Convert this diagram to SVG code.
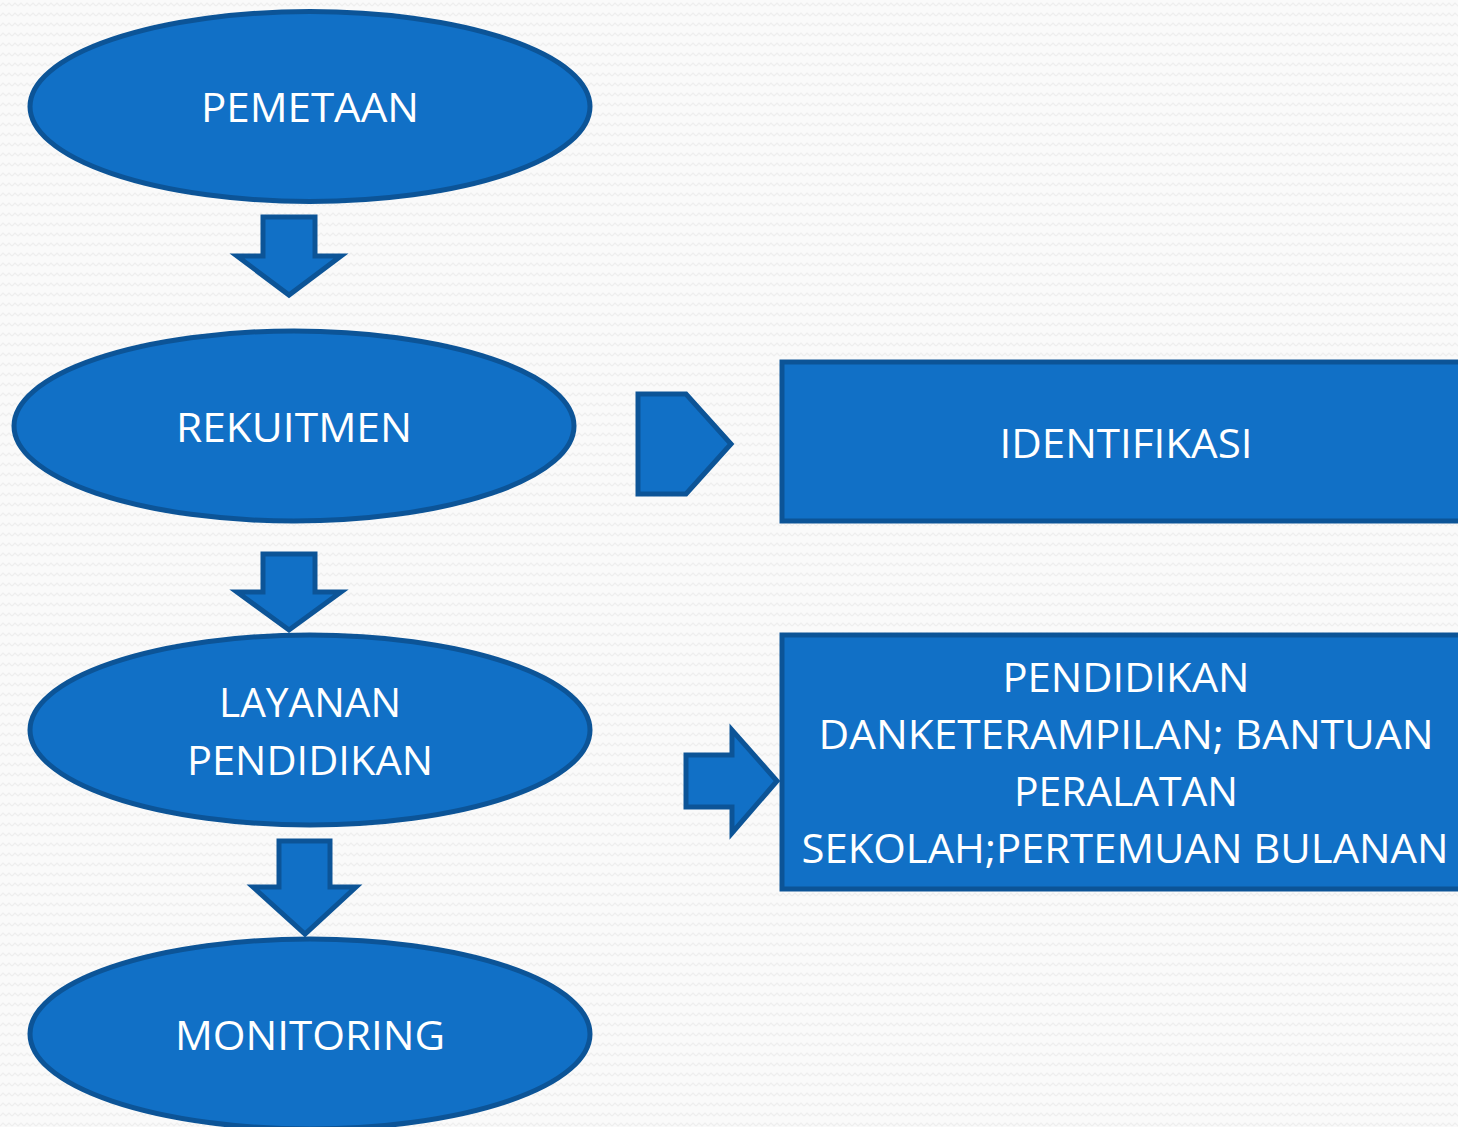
<svg xmlns="http://www.w3.org/2000/svg" width="1458" height="1127" viewBox="0 0 1458 1127">
  <defs>
    <pattern id="zig" width="12" height="10" patternUnits="userSpaceOnUse">
      <rect width="12" height="10" fill="#fafafa"/>
      <polyline points="0,6 3,3 6,6 9,3 12,6" fill="none" stroke="#eeeeee" stroke-width="1.2"/>
    </pattern>
  </defs>
  <style>
    .shape { fill: #1170c6; stroke: #0c5497; stroke-width: 5; stroke-linejoin: miter; }
    .lbl { font-family: "Open Sans", "Liberation Sans", sans-serif; font-size: 41px; fill: #ffffff; text-anchor: middle; }
  </style>
  <rect width="1458" height="1127" fill="url(#zig)"/>

  <g id="connectors">
    <polygon class="shape" points="263,217 315,217 315,256 341,256 289,295 237,256 263,256"/>
    <polygon class="shape" points="263,554 315,554 315,592 341,592 289,630 237,592 263,592"/>
    <polygon class="shape" points="279,841 330,841 330,887 356,887 305,934 253,887 279,887"/>
    <polygon class="shape" points="638,394 686,394 731,444 686,494 638,494"/>
    <polygon class="shape" points="686,755 732,755 732,730 777,781 732,833 732,807 686,807"/>
  </g>

  <g id="pemetaan">
    <ellipse class="shape" cx="310" cy="106.5" rx="280" ry="95"/>
    <text class="lbl" x="310" y="122" textLength="218" lengthAdjust="spacingAndGlyphs">PEMETAAN</text>
  </g>
  <g id="rekuitmen">
    <ellipse class="shape" cx="294" cy="426" rx="280" ry="95"/>
    <text class="lbl" x="294" y="442" textLength="236" lengthAdjust="spacingAndGlyphs">REKUITMEN</text>
  </g>
  <g id="layanan">
    <ellipse class="shape" cx="310" cy="730" rx="280" ry="95"/>
    <text class="lbl" x="310" y="717" textLength="182" lengthAdjust="spacingAndGlyphs">LAYANAN</text>
    <text class="lbl" x="310" y="775" textLength="246" lengthAdjust="spacingAndGlyphs">PENDIDIKAN</text>
  </g>
  <g id="monitoring">
    <ellipse class="shape" cx="310" cy="1034" rx="280" ry="95"/>
    <text class="lbl" x="310" y="1050" textLength="270" lengthAdjust="spacingAndGlyphs">MONITORING</text>
  </g>
  <g id="identifikasi">
    <rect class="shape" x="782" y="362" width="690" height="159"/>
    <text class="lbl" x="1126" y="458" textLength="253" lengthAdjust="spacingAndGlyphs">IDENTIFIKASI</text>
  </g>
  <g id="pendidikan">
    <rect class="shape" x="782" y="635" width="690" height="254"/>
    <text class="lbl" x="1126" y="692" textLength="247" lengthAdjust="spacingAndGlyphs">PENDIDIKAN</text>
    <text class="lbl" x="1126" y="749" textLength="615" lengthAdjust="spacingAndGlyphs">DANKETERAMPILAN; BANTUAN</text>
    <text class="lbl" x="1126" y="806" textLength="224" lengthAdjust="spacingAndGlyphs">PERALATAN</text>
    <text class="lbl" x="1125" y="863" textLength="647" lengthAdjust="spacingAndGlyphs">SEKOLAH;PERTEMUAN BULANAN</text>
  </g>
</svg>
